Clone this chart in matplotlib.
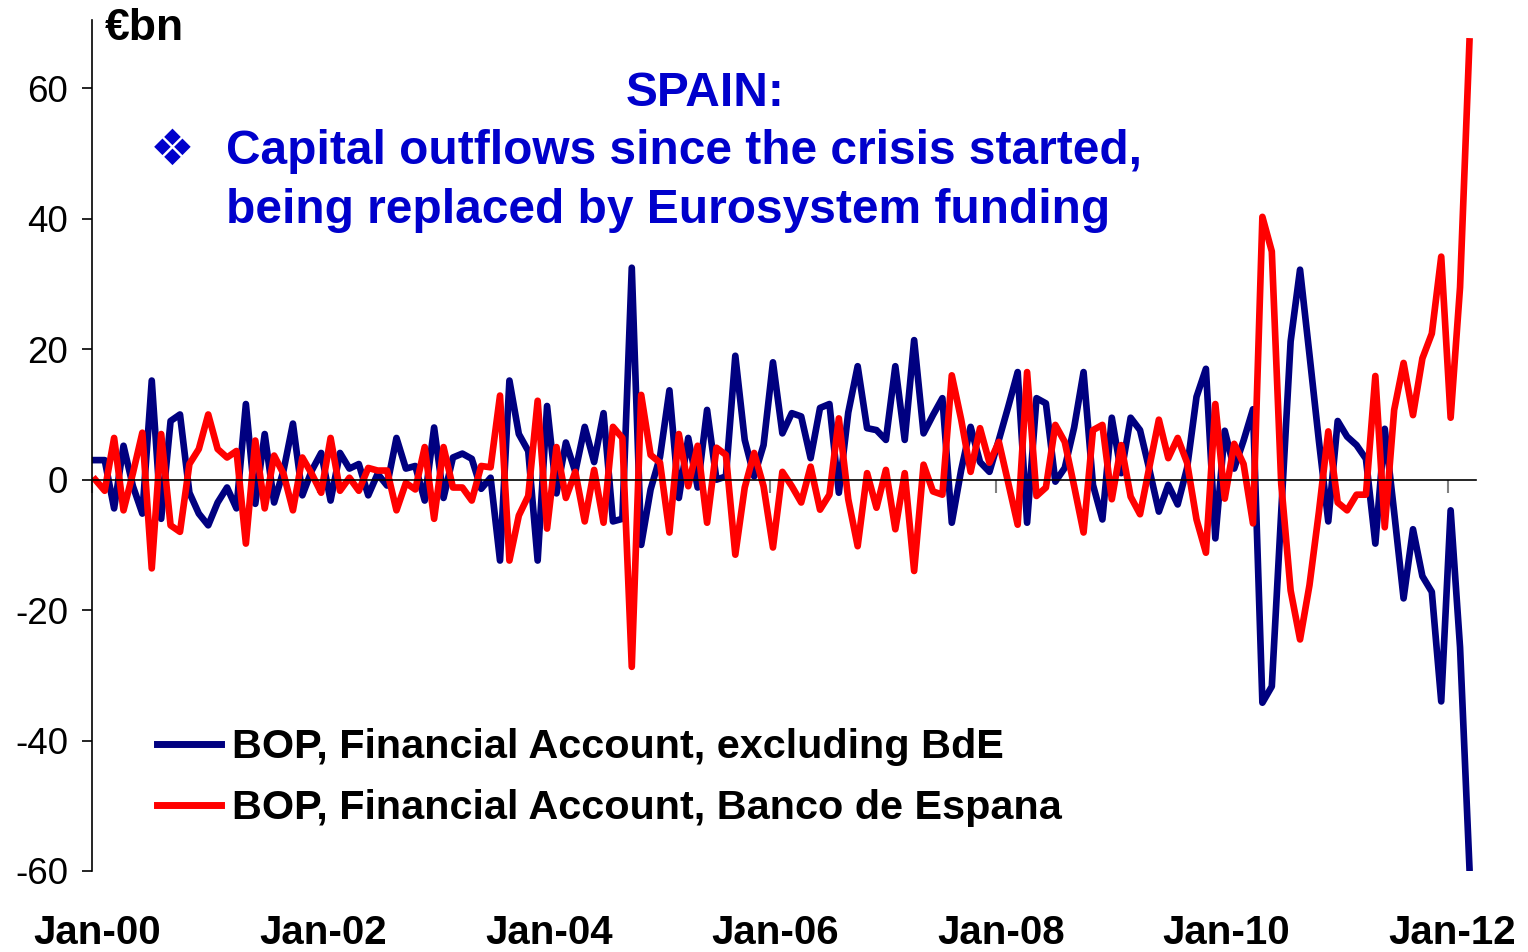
import numpy as np
import pandas as pd
import matplotlib
matplotlib.use("Agg")
import matplotlib.pyplot as plt

# monthly data, Jan-2000 .. Mar-2012, EUR bn
dates = pd.date_range("2000-01-01", periods=147, freq="MS")

fa_excl_bde = [
    3, 3, -4.4, 5.2, -1, -5.2, 15.2, -6, 9, 10, -2, -5.2, -7, -3.5, -1.2, -4.4, 11.6,
    -3.7, 7, -3.5, 1.4, 8.6, -2.4, 1.4, 4.1, -3.2, 4.1, 1.7, 2.4, -2.4, 0.9, -0.9, 6.4, 1.7,
    2.1, -3.2, 8, -2.8, 3.4, 4, 3.2, -1.4, 0.3, -12.4, 15.2, 7, 4.4, -12.4, 11.3, -2.1, 5.7,
    1.2, 8.1, 2.7, 10.2, -6.4, -6, 32.5, -10, -1.5, 3.5, 13.7, -2.8, 6.4, -1.2, 10.7, 0, 0.5, 19,
    6.1, 0.5, 5.3, 18, 7.1, 10.2, 9.7, 3.3, 11, 11.6, -2, 10.3, 17.4, 7.9, 7.6, 6.1, 17.4,
    6.1, 21.4, 7.1, 9.9, 12.5, -6.6, 1.5, 8.1, 2.7, 1.2, 6.1, 11.2, 16.5, -6.6, 12.5, 11.7,
    -0.3, 1.8, 8, 16.5, -0.8, -6.1, 9.5, 1, 9.5, 7.6, 1.5, -4.9, -0.8, -3.8, 1.8, 12.7, 17,
    -9, 7.5, 1.7, 6, 10.8, -34.2, -31.7, -5, 21.2, 32.2, 19.2, 6, -6.4,
    9, 6.6, 5.3, 3.2, -9.8, 7.8, -5, -18.2, -7.6, -14.8, -17.2, -34, -4.7, -25.7, -59.5,
]

fa_bde = [
    0, -1.7, 6.4, -4.7, 1, 7.2, -13.6, 7, -7, -8, 2.4, 4.7, 10, 4.7, 3.4, 4.4, -9.8,
    6, -4.4, 3.7, 0.9, -4.7, 3.4, 0.9, -2, 6.4, -1.7, 0.3, -1.7, 1.8, 1.4, 1.4, -4.7, -0.5,
    -1.5, 5, -6, 5, -1.2, -1.2, -3.2, 2.1, 1.9, 12.9, -12.4, -5.5, -2.5, 12.1, -7.5, 5, -2.8,
    1.2, -6.4, 1.5, -6.6, 8.1, 6.4, -28.7, 13, 3.8, 2.6, -8.1, 7, -1, 5.2, -6.6, 4.9, 3.8, -11.5,
    -1.2, 4.1, -1, -10.4, 1.2, -1, -3.5, 2, -4.6, -2.3, 9.4, -3, -10.2, 1, -4.3, 1.5, -7.6,
    1, -14, 2.3, -1.8, -2.3, 16, 9.2, 1.2, 7.9, 2.6, 5.8, -0.5, -6.9, 16.5, -2.5, -1.2,
    8.4, 5.8, -1, -8.1, 7.6, 8.4, -3, 5.3, -2.6, -5.3, 2, 9.2, 3.3, 6.4, 2.6, -6.1, -11.2,
    11.6, -2.9, 5.5, 2.4, -6.7, 40.3, 35, -0.6, -17, -24.5, -16.2, -5, 7.4,
    -3.5, -4.7, -2.3, -2.3, 15.9, -7.3, 10.7, 17.9, 9.9, 18.6, 22.4, 34.2, 9.5, 29.5, 67.2,
]

labels = ["BOP, Financial Account, excluding BdE",
          "BOP, Financial Account, Banco de Espana"]
xtick_labels = ["Jan-00", "Jan-02", "Jan-04", "Jan-06", "Jan-08", "Jan-10", "Jan-12"]

plt.rcParams['font.family'] = ['Liberation Sans', 'DejaVu Sans']

fig = plt.figure(figsize=(15.28, 9.52), dpi=100)
ax = fig.add_axes([0.0602, 0.0851, 0.9058, 0.894])

# points sit a little right of the month tick, as in the original
x = np.arange(len(dates)) + 0.3
ax.plot(x, fa_excl_bde, color='#000080', lw=4.8, label=labels[0])
ax.plot(x, fa_bde, color='#FF0000', lw=4.8, label=labels[1])

ax.set_xlim(-0.05, 147)
ax.set_ylim(-60, 70.5)

for s in ['top', 'right']:
    ax.spines[s].set_visible(False)
ax.spines['bottom'].set_position(('data', 0))
ax.spines['left'].set_linewidth(1.2)
ax.spines['bottom'].set_linewidth(1.2)

ax.set_yticks([-60, -40, -20, 0, 20, 40, 60])
ax.set_yticklabels(['-60', '-40', '-20', '0', '20', '40', '60'], fontsize=26.5)
ax.tick_params(axis='y', direction='out', length=7, width=1.2, pad=10)

tick_pos = [i for i, d in enumerate(dates) if d.month == 1 and d.year % 2 == 0]
ax.set_xticks(tick_pos)
ax.set_xticklabels([])
ax.tick_params(axis='x', direction='out', length=9, width=1.5, color='#808080')

sec = ax.secondary_xaxis(0.0)
sec.set_xticks([p + 0.5 for p in tick_pos])
sec.set_xticklabels(xtick_labels, fontsize=29, fontweight='bold')
sec.tick_params(length=0, pad=31)
sec.spines['bottom'].set_visible(False)

ax.text(0.0095, 0.99, "€bn", transform=ax.transAxes, fontsize=32, fontweight='bold',
        va='center', ha='left')

title_color = '#0000CC'
ax.text(0.443, 0.914, "SPAIN:", transform=ax.transAxes, fontsize=34.5, fontweight='bold',
        color=title_color, ha='center', va='center')
ax.text(0.0415, 0.846, "\u2756", transform=ax.transAxes, fontsize=36,
        color=title_color, ha='left', va='center', family=['DejaVu Sans'])
ax.text(0.097, 0.845, "Capital outflows since the crisis started,", transform=ax.transAxes,
        fontsize=34.5, fontweight='bold', color=title_color, ha='left', va='center')
ax.text(0.097, 0.776, "being replaced by Eurosystem funding", transform=ax.transAxes,
        fontsize=34.5, fontweight='bold', color=title_color, ha='left', va='center')

leg = ax.legend(loc='upper left', bbox_to_anchor=(0.047, 0.168), frameon=False,
                prop={'size': 29.8, 'weight': 'bold'}, handlelength=1.55,
                handletextpad=0.27, labelspacing=0.56, borderpad=0, borderaxespad=0)
for line in leg.get_lines():
    line.set_linewidth(5)

fig.savefig("out.png", dpi=100)
